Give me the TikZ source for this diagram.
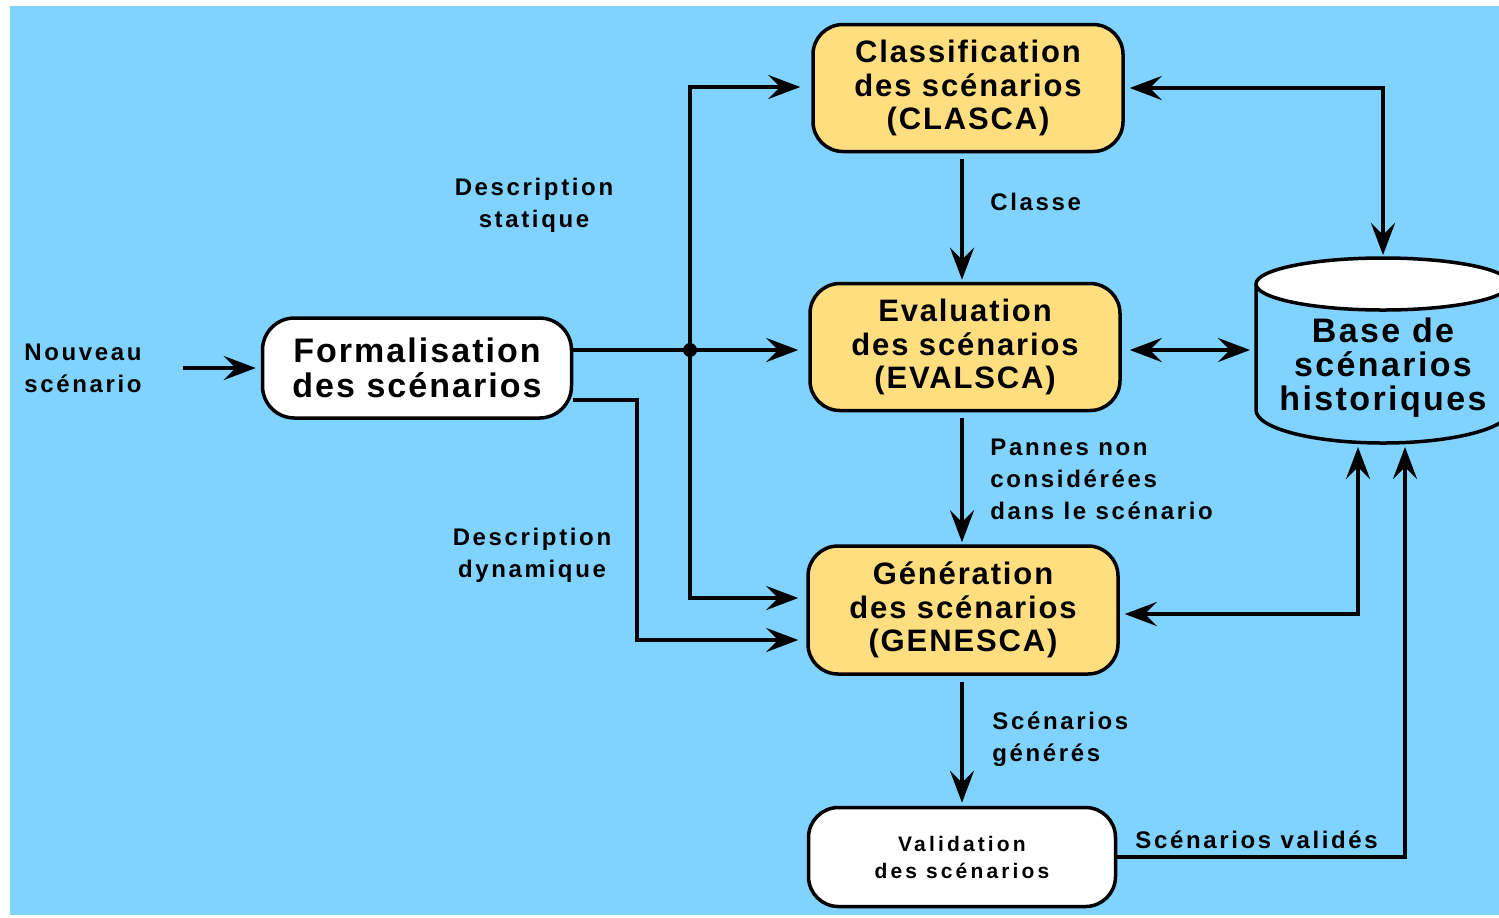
\documentclass[tikz,border=0pt]{standalone}
\usepackage{fontspec}
\setmainfont{Liberation Sans}
\newfontfamily\fForm{Liberation Sans}[LetterSpace=6]
\newfontfamily\fBox{Liberation Sans}[LetterSpace=6]
\newfontfamily\fCyl{Liberation Sans}[LetterSpace=7]
\newfontfamily\fLab{Liberation Sans}[LetterSpace=11]
\newfontfamily\fVal{Liberation Sans}[LetterSpace=15]
\usetikzlibrary{arrows.meta}
\definecolor{bgblue}{RGB}{128,210,255}
\definecolor{orng}{RGB}{255,222,128}
\begin{document}
\begin{tikzpicture}[x=0.5pt,y=-0.5pt,
  box/.style={draw=black,line width=1.75pt,rounded corners=15pt,inner sep=0pt,align=center,
    font={\fBox\fontsize{15.5pt}{16.75pt}\selectfont\bfseries}},
  obox/.style={box,fill=orng,minimum width=155pt,minimum height=63.5pt},
  lab/.style={inner sep=0pt,font={\fLab\fontsize{12pt}{16pt}\selectfont\bfseries}},
  ln/.style={line width=2pt},
  arr/.style={ln,-{Stealth[length=16pt,width=12pt,inset=6pt]}},
  darr/.style={ln,{Stealth[length=16pt,width=12pt,inset=6pt]}-{Stealth[length=16pt,width=12pt,inset=6pt]}}
]
\useasboundingbox (0,0) rectangle (1499,917);
\clip (0,0) rectangle (1499,917);
\fill[white] (0,0) rectangle (1499,917);
\fill[bgblue] (10,6) rectangle (1499,915);

% boxes
\node[box,fill=white,minimum width=154.5pt,minimum height=50pt,rounded corners=16pt,
  font={\fForm\fontsize{17pt}{17.5pt}\selectfont\bfseries}] (form) at (417,368) {Formalisation\\des scénarios};
\node[obox] (clasca) at (968,88) {Classification\\des scénarios\\(CLASCA)};
\node[obox] (evalsca) at (965,347) {Evaluation\\des scénarios\\(EVALSCA)};
\node[obox,minimum height=64pt] (genesca) at (963,610) {Génération\\des scénarios\\(GENESCA)};
\node[box,fill=white,minimum width=153.5pt,minimum height=49.5pt,
  font={\fVal\fontsize{10.5pt}{13.5pt}\selectfont\bfseries}] (valid) at (962,857) {Validation\\des scénarios};

% cylinder
\fill[bgblue] (1256,284) -- (1256,410) arc[start angle=180,end angle=0,x radius=127,y radius=33] -- (1510,284) -- cycle;
\draw[line width=1.75pt] (1256,284) -- (1256,410) arc[start angle=180,end angle=0,x radius=127,y radius=33];
\filldraw[fill=white,line width=1.75pt] (1383,284) ellipse[x radius=127,y radius=26];
\node[inner sep=0pt,align=center,font={\fCyl\fontsize{17pt}{17pt}\selectfont\bfseries}] (base) at (1383,368) {Base de\\scénarios\\historiques};

% labels
\node[lab,align=left,anchor=west] (nouv) at (24,368) {Nouveau\\scénario};
\node[lab,align=center] (dstat) at (534,205) {Description\\statique};
\node[lab,align=center] (ddyn) at (532,555) {Description\\dynamique};
\node[lab,anchor=west] (classe) at (990,202) {Classe};
\node[lab,align=left,anchor=west] (pannes) at (990,479) {Pannes non\\considérées\\dans le scénario};
\node[lab,align=left,anchor=west] (sgen) at (992,739) {Scénarios\\générés};
\node[lab,anchor=west] (sval) at (1135,840) {Scénarios validés};

% coordinates
\coordinate (nstart) at (183,368);
\coordinate (jn) at (690,350);
\coordinate (jt) at (690,87);
\coordinate (jb) at (690,598);
\coordinate (jd1) at (637,400);
\coordinate (jd2) at (637,640);
\coordinate (ax) at (962,0);
\coordinate (btop) at (1383,258);
\coordinate (bleft) at (1256,350);
\coordinate (bb1) at (1358,447);
\coordinate (bb2) at (1405,447);
\coordinate (jg) at (1358,614);

% connectors
\draw[arr,shorten >=2.5pt] (nstart) -- (form.west);
\draw[ln] (form.east |- jn) -- (jn);
\draw[arr,shorten >=5pt] (jn) -- (evalsca.west |- jn);
\draw[arr,shorten >=5.5pt] (jb) -- (jt) -- (clasca.west |- jt);
\draw[arr,shorten >=4pt] (jn) -- (jb) -- (genesca.west |- jb);
\draw[arr,shorten >=4pt] (form.east |- jd1) -- (jd1) -- (jd2) -- (genesca.west |- jd2);
\fill (jn) circle (3.5pt);
\draw[arr,shorten <=3pt,shorten >=1pt] (ax |- clasca.south) -- (ax |- evalsca.north);
\draw[arr,shorten <=3pt,shorten >=1pt] (ax |- evalsca.south) -- (ax |- genesca.north);
\draw[arr,shorten <=3pt,shorten >=1.5pt] (ax |- genesca.south) -- (ax |- valid.north);
\draw[darr,shorten <=2.5pt,shorten >=1.5pt] (clasca.east) -| (btop);
\draw[darr,shorten <=4pt,shorten >=3pt] (evalsca.east |- jn) -- (bleft);
\draw[darr,shorten <=2.5pt] (genesca.east |- jg) -- (jg) -- (bb1);
\draw[arr] (valid.east) -| (bb2);
\end{tikzpicture}
\end{document}
